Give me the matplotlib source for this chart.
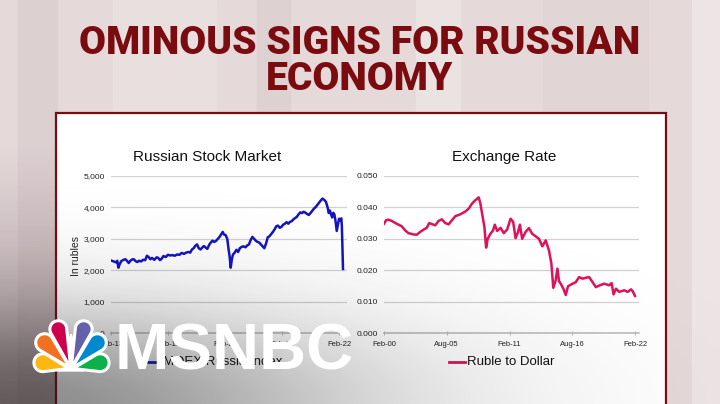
import numpy as np
import matplotlib
matplotlib.use("Agg")
import matplotlib.pyplot as plt
from matplotlib import font_manager
from matplotlib.patches import Rectangle, Polygon

# ---- data -------------------------------------------------------------
# MOEX index, decimal years
stock_years = [2018.08, 2018.11, 2018.14, 2018.17, 2018.19, 2018.21, 2018.23, 2018.26,
               2018.30, 2018.33, 2018.36, 2018.39, 2018.42, 2018.45, 2018.48, 2018.51,
               2018.54, 2018.57, 2018.61, 2018.64, 2018.68, 2018.71, 2018.74, 2018.77,
               2018.80, 2018.84, 2018.88, 2018.91, 2018.94, 2018.97, 2019.00, 2019.04,
               2019.08, 2019.12, 2019.16, 2019.20, 2019.24, 2019.28, 2019.32, 2019.36,
               2019.40, 2019.44, 2019.47, 2019.50, 2019.53, 2019.56, 2019.59, 2019.62,
               2019.65, 2019.68, 2019.71, 2019.74, 2019.77, 2019.80, 2019.83, 2019.86,
               2019.89, 2019.92, 2019.95, 2019.98, 2020.02, 2020.04, 2020.06, 2020.09,
               2020.12, 2020.14, 2020.16, 2020.18, 2020.20, 2020.22, 2020.25, 2020.28,
               2020.31, 2020.34, 2020.37, 2020.40, 2020.44, 2020.47, 2020.50, 2020.53,
               2020.56, 2020.59, 2020.62, 2020.65, 2020.68, 2020.71, 2020.74, 2020.77,
               2020.80, 2020.83, 2020.86, 2020.89, 2020.92, 2020.95, 2020.98, 2021.01,
               2021.04, 2021.07, 2021.10, 2021.13, 2021.16, 2021.19, 2021.22, 2021.25,
               2021.28, 2021.31, 2021.34, 2021.37, 2021.40, 2021.43, 2021.46, 2021.49,
               2021.52, 2021.55, 2021.58, 2021.61, 2021.64, 2021.67, 2021.70, 2021.73,
               2021.76, 2021.79, 2021.82, 2021.85, 2021.88, 2021.90, 2021.92, 2021.94,
               2021.96, 2021.98, 2022.00, 2022.02, 2022.04, 2022.06, 2022.08, 2022.10,
               2022.12, 2022.13, 2022.15]
stock_values = [2310, 2290, 2270, 2250, 2300, 2080, 2180, 2290,
                2330, 2350, 2300, 2230, 2300, 2340, 2350, 2290,
                2260, 2300, 2280, 2330, 2320, 2460, 2420, 2350,
                2390, 2330, 2410, 2390, 2320, 2370, 2450, 2420,
                2490, 2470, 2480, 2460, 2500, 2490, 2550, 2520,
                2560, 2580, 2560, 2660, 2700, 2780, 2820, 2700,
                2660, 2720, 2770, 2720, 2680, 2800, 2880, 2940,
                2900, 2930, 2990, 3050, 3160, 3220, 3140, 3120,
                3000, 2700, 2450, 2080, 2350, 2500, 2560, 2650,
                2580, 2700, 2740, 2760, 2730, 2790, 2820, 2960,
                3060, 3000, 2940, 2900, 2880, 2820, 2760, 2700,
                2850, 3050, 3080, 3150, 3220, 3300, 3400, 3420,
                3350, 3380, 3450, 3480, 3530, 3480, 3540, 3560,
                3620, 3660, 3700, 3780, 3840, 3820, 3860, 3830,
                3790, 3760, 3820, 3890, 3960, 4010, 4080, 4150,
                4220, 4280, 4240, 4180, 4000, 3820, 3900, 3780,
                3680, 3830, 3770, 3550, 3250, 3450, 3640, 3580,
                3650, 3400, 2040]
stock_ticks = [2018.08, 2019.08, 2020.08, 2021.08, 2022.08]
stock_tick_labels = ["Feb-18", "Feb-19", "Feb-20", "Feb-21", "Feb-22"]
stock_yticks = [0, 1000, 2000, 3000, 4000, 5000]

# ruble to dollar
fx_years = [2000.08, 2000.26, 2000.46, 2000.75, 2001.19, 2001.63, 2001.93, 2002.22,
            2002.66, 2002.95, 2003.25, 2003.54, 2003.83, 2004.04, 2004.27, 2004.57,
            2004.86, 2005.15, 2005.45, 2005.74, 2006.03, 2006.33, 2006.77, 2007.21,
            2007.50, 2007.79, 2008.09, 2008.38, 2008.53, 2008.73, 2008.88, 2009.03,
            2009.17, 2009.41, 2009.64, 2009.79, 2010.00, 2010.29, 2010.58, 2010.88,
            2011.17, 2011.40, 2011.61, 2011.81, 2011.99, 2012.19, 2012.49, 2012.78,
            2013.07, 2013.37, 2013.66, 2013.96, 2014.25, 2014.54, 2014.75, 2014.92,
            2015.13, 2015.28, 2015.42, 2015.57, 2015.80, 2016.01, 2016.21, 2016.51,
            2016.89, 2017.18, 2017.48, 2017.77, 2018.06, 2018.36, 2018.65, 2018.94,
            2019.38, 2019.82, 2020.03, 2020.20, 2020.41, 2020.70, 2021.14, 2021.44,
            2021.73, 2021.88, 2022.08]
fx_values = [0.0348, 0.0359, 0.0361, 0.0357, 0.0348, 0.0340, 0.0327, 0.0318,
             0.0314, 0.0313, 0.0322, 0.0329, 0.0335, 0.0350, 0.0347, 0.0343,
             0.0357, 0.0362, 0.0350, 0.0346, 0.0359, 0.0372, 0.0378, 0.0387,
             0.0396, 0.0412, 0.0423, 0.0432, 0.0412, 0.0369, 0.0338, 0.0272,
             0.0300, 0.0316, 0.0327, 0.0345, 0.0325, 0.0335, 0.0318, 0.0330,
             0.0364, 0.0354, 0.0302, 0.0320, 0.0345, 0.0300, 0.0322, 0.0334,
             0.0316, 0.0308, 0.0300, 0.0276, 0.0295, 0.0263, 0.0221, 0.0144,
             0.0168, 0.0205, 0.0165, 0.0157, 0.0141, 0.0121, 0.0149, 0.0155,
             0.0162, 0.0178, 0.0173, 0.0176, 0.0178, 0.0162, 0.0146, 0.0151,
             0.0157, 0.0152, 0.0159, 0.0123, 0.0141, 0.0131, 0.0136, 0.0131,
             0.0139, 0.0133, 0.0118]
fx_ticks = [2000.08, 2005.58, 2011.08, 2016.58, 2022.08]
fx_tick_labels = ["Feb-00", "Aug-05", "Feb-11", "Aug-16", "Feb-22"]
fx_yticks = [0.0, 0.01, 0.02, 0.03, 0.04, 0.05]

W, H = 720, 404
installed = {f.name for f in font_manager.fontManager.ttflist}
head_font = "Roboto" if "Roboto" in installed else "DejaVu Sans"
sans = "Liberation Sans"
dark_red = "#7a0c10"

fig = plt.figure(figsize=(W / 100, H / 100), dpi=100)


def px_axes(z):
    ax = fig.add_axes([0, 0, 1, 1], zorder=z)
    ax.set_xlim(0, W)
    ax.set_ylim(H, 0)
    ax.axis("off")
    ax.patch.set_visible(False)
    return ax


# background with vertical stripes and the white panel
bg = px_axes(0)
bg.add_patch(Rectangle((0, 0), W, H, color="#e5d9da", zorder=0))
stripes = [(18, 57, "#ddd0d1"), (113, 216, "#e9dfdf"), (257, 290, "#ddd1d2"),
           (416, 460, "#ebe2e2"), (543, 648, "#e1d5d6"), (692, 720, "#ede5e5")]
for x0, x1, c in stripes:
    bg.add_patch(Rectangle((x0, 0), x1 - x0, H, color=c, zorder=1))
# darker left strip towards the bottom
sy = np.linspace(0, 1, 64)[:, None] * np.ones((1, 2))
strip = np.zeros(sy.shape + (4,))
strip[..., :3] = [0.3, 0.2, 0.22]
strip[..., 3] = 0.35 * sy
bg.imshow(strip, extent=(0, 57, H, 140), aspect="auto", interpolation="bilinear", zorder=1.5)
bg.set_xlim(0, W)
bg.set_ylim(H, 0)
bg.add_patch(Rectangle((56, 112.5), 610, 300, facecolor="white",
                       edgecolor=dark_red, lw=1.6, zorder=2))

# chart titles, legends and y label
bg.text(207, 157, "Russian Stock Market", family=sans, fontsize=11,
        ha="center", va="center", color="#111111", zorder=3)
bg.text(504, 157, "Exchange Rate", family=sans, fontsize=11,
        ha="center", va="center", color="#111111", zorder=3)
bg.text(76, 256, "In rubles", family=sans, fontsize=7.5, rotation=90,
        ha="center", va="center", color="#222222", zorder=3)
bg.plot([148, 160], [362, 362], color="#1414c0", lw=2, zorder=3)
bg.text(163, 362, "MOEX Russia Index", family=sans, fontsize=9.5,
        ha="left", va="center", color="#111111", zorder=3)
bg.plot([449, 465], [362, 362], color="#e0115a", lw=2, zorder=3)
bg.text(467, 362, "Ruble to Dollar", family=sans, fontsize=9.5,
        ha="left", va="center", color="#111111", zorder=3)

t1 = fig.text(0.5, 1 - 43 / H, "OMINOUS SIGNS FOR RUSSIAN", family=[head_font, "DejaVu Sans"],
              fontsize=30, fontweight="black", color=dark_red, ha="center", va="center")
t2 = fig.text(0.5, 1 - 79.5 / H, "ECONOMY", family=[head_font, "DejaVu Sans"],
              fontsize=30, fontweight="black", color=dark_red, ha="center", va="center")
# size the headline so the first line is about as wide as in the broadcast
renderer = fig.canvas.get_renderer()
w1 = t1.get_window_extent(renderer).width
size = min(30 * 560 / w1, 30.5)
t1.set_fontsize(size)
t2.set_fontsize(size)


def style_chart(ax, ticks, labels, yticks, yfmt):
    ax.patch.set_visible(False)
    for s in ["top", "right", "left"]:
        ax.spines[s].set_visible(False)
    ax.spines["bottom"].set_color("#b8b8b8")
    ax.spines["bottom"].set_linewidth(1.1)
    ax.set_yticks(yticks)
    ax.set_yticklabels([yfmt(v) for v in yticks])
    ax.set_xticks(ticks)
    ax.set_xticklabels(labels)
    ax.grid(axis="y", color="#d2d2d2", lw=0.9)
    ax.set_axisbelow(True)
    ax.tick_params(axis="y", length=0, pad=4.5, labelsize=6, labelcolor="#222222")
    ax.tick_params(axis="x", length=3, direction="inout", color="#b8b8b8",
                   pad=4, labelsize=5.5, labelcolor="#222222")
    for lab in ax.get_xticklabels() + ax.get_yticklabels():
        lab.set_family(sans)


bottom = (H - 333) / H
height = 157 / H

ax1 = fig.add_axes([111 / W, bottom, 236 / W, height], zorder=1)
ax1.plot(stock_years, stock_values, color="#1414c0", lw=1.8, solid_joinstyle="round")
ax1.set_xlim(2018.08, 2022.22)
ax1.set_ylim(0, 5000)
style_chart(ax1, stock_ticks, stock_tick_labels, stock_yticks, lambda v: f"{v:,.0f}")

ax2 = fig.add_axes([384 / W, bottom, 255 / W, height], zorder=1)
ax2.plot(fx_years, fx_values, color="#e0115a", lw=1.8, solid_joinstyle="round")
ax2.set_xlim(2000.08, 2022.43)
ax2.set_ylim(0, 0.05)
style_chart(ax2, fx_ticks, fx_tick_labels, fx_yticks, lambda v: f"{v:.3f}")

# grey vignette in the bottom-left corner and the network logo
ov = px_axes(3)
yy, xx = np.mgrid[0:H:2, 0:W:2]
alpha = 0.5 * np.exp(-(xx / 365.0) ** 2 - ((H - yy) / 100.0) ** 2)
rgba = np.zeros(xx.shape + (4,))
rgba[..., :3] = 0.1
rgba[..., 3] = alpha
ov.imshow(rgba, extent=(0, W, H, 0), aspect="auto", interpolation="bilinear", zorder=1)
ov.set_xlim(0, W)
ov.set_ylim(H, 0)


def feather(base, tip, rad, r0=5.0):
    # teardrop: round end at the tip, point towards the base
    base = np.asarray(base, float)
    tip = np.asarray(tip, float)
    u = (tip - base) / np.hypot(*(tip - base))
    ctr = tip - u * rad
    p0 = base + u * r0
    d = np.hypot(*(ctr - p0))
    back = np.arctan2(*(p0 - ctr)[::-1])
    a = np.arccos(rad / d)
    t = np.linspace(back + a, back + 2 * np.pi - a, 40)
    pts = np.column_stack([ctr[0] + rad * np.cos(t), ctr[1] + rad * np.sin(t)])
    return np.vstack([p0, pts])


base = (71.0, 369.0)
feathers = [((35, 361), 8.0, "#fcb711"), ((39, 337), 8.0, "#f37021"),
            ((56, 322), 7.5, "#cc004c"), ((86, 322), 7.5, "#6460aa"),
            ((103, 337), 8.0, "#0089d0"), ((108, 361), 8.0, "#0db14b")]
outlines = [feather(base, tip, rad) for tip, rad, c in feathers]
for pts in outlines:
    ov.add_patch(Polygon(pts, closed=True, facecolor="white", edgecolor="white",
                         lw=3.5, joinstyle="round", zorder=2))
ov.add_patch(Polygon([(58, 371), (84, 371), (71, 334)], closed=True,
                     color="white", zorder=2))
for pts, (tip, rad, c) in zip(outlines, feathers):
    ov.add_patch(Polygon(pts, closed=True, facecolor=c, edgecolor="white",
                         lw=0.9, zorder=3))
ov.text(115, 369, "MSNBC", family=sans, fontsize=47, fontweight="bold",
        color="white", ha="left", va="baseline", zorder=5)

fig.savefig("out.png", dpi=100)
